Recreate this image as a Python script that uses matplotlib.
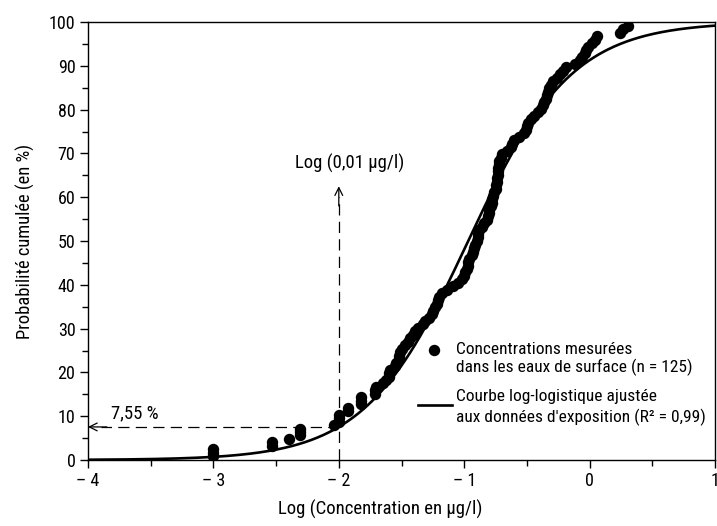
import matplotlib
matplotlib.use("Agg")
import matplotlib.pyplot as plt
from matplotlib.ticker import MultipleLocator, FixedLocator
import numpy as np

plt.rcParams['font.family'] = ['Roboto Condensed', 'DejaVu Sans']

# Measured concentrations (log10 µg/l) and cumulative probability (%)
log_conc = [
    -3.00, -3.00, -3.00, -2.53, -2.53, -2.40, -2.31, -2.31, -2.31, -2.04,
    -2.00, -2.00, -2.00, -1.93, -1.93, -1.82, -1.82, -1.82, -1.71, -1.71,
    -1.70, -1.65, -1.62, -1.60, -1.60, -1.59, -1.55, -1.54, -1.52, -1.52,
    -1.51, -1.50, -1.47, -1.45, -1.43, -1.41, -1.39, -1.37, -1.33, -1.31,
    -1.28, -1.26, -1.25, -1.23, -1.22, -1.21, -1.20, -1.18, -1.14, -1.09,
    -1.05, -1.02, -1.00, -0.99, -0.98, -0.97, -0.97, -0.96, -0.94, -0.93,
    -0.92, -0.91, -0.90, -0.89, -0.89, -0.88, -0.86, -0.84, -0.82, -0.81,
    -0.80, -0.80, -0.79, -0.78, -0.78, -0.77, -0.76, -0.75, -0.75, -0.74,
    -0.74, -0.73, -0.73, -0.73, -0.72, -0.72, -0.71, -0.70, -0.66, -0.63,
    -0.62, -0.60, -0.56, -0.52, -0.51, -0.50, -0.49, -0.47, -0.44, -0.41,
    -0.39, -0.37, -0.36, -0.35, -0.34, -0.33, -0.32, -0.31, -0.29, -0.26,
    -0.24, -0.21, -0.19, -0.12, -0.08, -0.06, -0.04, -0.03, -0.01, 0.02,
    0.04, 0.06, 0.24, 0.27, 0.31,
]
cum_prob = [
    0.8, 1.6, 2.4, 3.2, 4.0, 4.8, 5.6, 6.3, 7.1, 7.9,
    8.7, 9.5, 10.3, 11.1, 11.9, 12.7, 13.5, 14.3, 15.1, 15.9,
    16.7, 17.5, 18.3, 19.0, 19.8, 20.6, 21.4, 22.2, 23.0, 23.8,
    24.6, 25.4, 26.2, 27.0, 27.8, 28.6, 29.4, 30.2, 31.0, 31.7,
    32.5, 33.3, 34.1, 34.9, 35.7, 36.5, 37.3, 38.1, 38.9, 39.7,
    40.5, 41.3, 42.1, 42.9, 43.7, 44.4, 45.2, 46.0, 46.8, 47.6,
    48.4, 49.2, 50.0, 50.8, 51.6, 52.4, 53.2, 54.0, 54.8, 55.6,
    56.3, 57.1, 57.9, 58.7, 59.5, 60.3, 61.1, 61.9, 62.7, 63.5,
    64.3, 65.1, 65.9, 66.7, 67.5, 68.3, 69.0, 69.8, 70.6, 71.4,
    72.2, 73.0, 73.8, 74.6, 75.4, 76.2, 77.0, 77.8, 78.6, 79.4,
    80.2, 81.0, 81.7, 82.5, 83.3, 84.1, 84.9, 85.7, 86.5, 87.3,
    88.1, 88.9, 89.7, 90.5, 91.3, 92.1, 92.9, 93.7, 94.4, 95.2,
    96.0, 96.8, 97.6, 98.4, 99.2,
]

# Fitted log-logistic curve parameters (location, scale in log10 units)
fit_location = -0.968
fit_scale = 0.412

threshold_log = -2.0
threshold_prob = 7.55

x_ticks = [-4, -3, -2, -1, 0, 1]
x_tick_labels = ['– 4', '– 3', '– 2', '– 1', '0', '1']
y_ticks = [0, 10, 20, 30, 40, 50, 60, 70, 80, 90, 100]

FS = 12.5

fig = plt.figure(figsize=(7.17, 5.26), dpi=100)
ax = fig.add_axes([88/717, 1-460/526, (715-88)/717, (460-22)/526])

xc = np.linspace(-4, 1, 400)
yc = 100.0 / (1.0 + np.exp(-(xc - fit_location) / fit_scale))
ax.plot(xc, yc, color='black', lw=1.9, zorder=3)
ax.plot(log_conc, cum_prob, 'o', color='black', ms=7.2, zorder=4)

# dashed guides
ax.plot([threshold_log, threshold_log], [0, 60], color='black', lw=0.9,
        dashes=(9, 5), zorder=2)
ax.annotate('', xy=(threshold_log, 62.5), xytext=(threshold_log, 58),
            arrowprops=dict(arrowstyle='->', lw=0.9, color='black',
                            mutation_scale=14, shrinkA=0, shrinkB=0))
ax.plot([threshold_log, -3.9], [threshold_prob, threshold_prob], color='black',
        lw=0.9, dashes=(9, 5), zorder=2)
ax.annotate('', xy=(-4, threshold_prob), xytext=(-3.85, threshold_prob),
            arrowprops=dict(arrowstyle='->', lw=0.9, color='black',
                            mutation_scale=14, shrinkA=0, shrinkB=0))

ax.text(-1.91, 67.8, 'Log (0,01 µg/l)', ha='center', va='center', fontsize=13.5)
ax.text(-3.82, 10.7, '7,55 %', ha='left', va='center', fontsize=13.5)

# legend drawn manually
ax.plot([0.5525], [0.251], 'o', color='black', ms=7.2, transform=ax.transAxes,
        clip_on=False)
ax.text(0.5876, 0.253, 'Concentrations mesurées', transform=ax.transAxes,
        ha='left', va='center', fontsize=FS)
ax.text(0.5876, 0.212, 'dans les eaux de surface (n = 125)', transform=ax.transAxes,
        ha='left', va='center', fontsize=FS)
ax.plot([0.527, 0.581], [0.1256, 0.1256], color='black', lw=1.9,
        transform=ax.transAxes, clip_on=False)
ax.text(0.5876, 0.146, 'Courbe log-logistique ajustée', transform=ax.transAxes,
        ha='left', va='center', fontsize=FS)
ax.text(0.5876, 0.098, "aux données d'exposition (R² = 0,99)", transform=ax.transAxes,
        ha='left', va='center', fontsize=FS)

ax.set_xlim(-4, 1)
ax.set_ylim(0, 100)
ax.xaxis.set_major_locator(FixedLocator(x_ticks))
ax.set_xticklabels(x_tick_labels)
ax.xaxis.set_minor_locator(MultipleLocator(0.5))
ax.yaxis.set_major_locator(FixedLocator(y_ticks))
ax.yaxis.set_minor_locator(MultipleLocator(5))
ax.tick_params(axis='both', which='major', direction='out', length=6, width=1,
               labelsize=13, pad=3)
ax.tick_params(axis='both', which='minor', direction='out', length=4, width=1)
for sp in ax.spines.values():
    sp.set_linewidth(1.0)

ax.set_xlabel('Log (Concentration en µg/l)', fontsize=13.5, labelpad=7)
ax.xaxis.set_label_coords((380 - 88) / 627, -0.09)
ax.set_ylabel('Probabilité cumulée (en %)', fontsize=13.3, labelpad=10)

fig.savefig('out.png', dpi=100)
